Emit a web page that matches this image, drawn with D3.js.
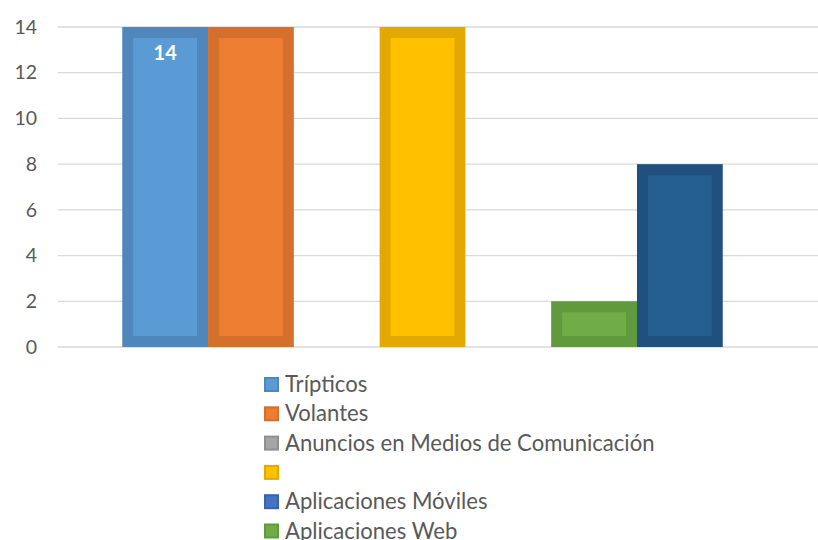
<!DOCTYPE html>
<html>
<head>
<meta charset="utf-8">
<script src="https://cdn.jsdelivr.net/npm/d3@7"></script>
<style>
    body { margin: 0; background: #fff; }
    svg { display: block; font-family: Lato, 'Noto Sans', sans-serif; }
</style>
</head>
<body>
<div id="chart"></div>
<script>
// data
const seriesNames = ['Trípticos', 'Volantes', 'Anuncios en Medios de Comunicación', '', 'Aplicaciones Móviles', 'Aplicaciones Web', ''];
const seriesValues = [14, 14, 0, 14, 0, 2, 8];
const seriesLabels = ['14', null, null, null, null, null, null]; // only the first bar has a label
const yTicks = [0, 2, 4, 6, 8, 10, 12, 14];

// colours: main fill + darker rim
const fills = ['#5b9bd5', '#ed7d31', '#a5a5a5', '#ffc000', '#4472c4', '#70ad47', '#255e91'];
const rims  = ['#4f87bd', '#d4702c', '#8f8f8f', '#e2aa00', '#3a63ad', '#609a3e', '#1f507e'];

const width = 818, height = 540;
const margin = [27, 193, 58, 31]; // top, bottom, left, right
const inset = 11;

const svg = d3.select('#chart')
    .append('svg')
    .attr('width', width)
    .attr('height', height);

const series = seriesNames.map((name, i) => ({ i, name, value: seriesValues[i], label: seriesLabels[i] }));

// scales
const x0 = d3.scaleBand([''], [margin[2], 787]).paddingInner(0).paddingOuter(0.107);
const x1 = d3.scaleBand(series.map(d => d.i), [0, x0.bandwidth()]).padding(0);
const y = d3.scaleLinear([0, 14], [height - margin[1], margin[0]]);

// gridlines
svg.append('g')
    .selectAll('line')
    .data(yTicks)
    .join('line')
    .attr('x1', margin[2])
    .attr('x2', width)
    .attr('y1', d => y(d))
    .attr('y2', d => y(d))
    .attr('stroke', '#d9d9d9')
    .attr('stroke-width', 1.3);

// y axis labels
const axisY = svg.append('g')
    .attr('transform', `translate(${margin[2]}, 0)`)
    .call(d3.axisLeft(y).tickValues(yTicks).tickSize(0).tickPadding(21));
axisY.select('.domain').remove();
axisY.selectAll('text')
    .style('font-family', 'Lato, sans-serif')
    .style('font-size', '19.5px')
    .attr('fill', '#595959');

// bars
const bars = svg.append('g')
    .attr('transform', `translate(${x0('')}, 0)`)
    .selectAll('g.bar')
    .data(series.filter(d => d.value > 0))
    .join('g')
    .classed('bar', true);

bars.append('rect')
    .attr('x', d => x1(d.i))
    .attr('y', d => y(d.value))
    .attr('width', x1.bandwidth())
    .attr('height', d => y(0) - y(d.value))
    .attr('fill', d => rims[d.i]);

bars.append('rect')
    .attr('x', d => x1(d.i) + inset)
    .attr('y', d => y(d.value) + inset)
    .attr('width', x1.bandwidth() - 2 * inset)
    .attr('height', d => Math.max(0, y(0) - y(d.value) - 2 * inset))
    .attr('fill', d => fills[d.i]);

// data labels
bars.filter(d => d.label)
    .append('text')
    .attr('x', d => x1(d.i) + x1.bandwidth() / 2)
    .attr('y', d => y(d.value))
    .attr('dy', 33)
    .attr('text-anchor', 'middle')
    .attr('fill', '#fff')
    .style('font-weight', 'bold')
    .style('font-size', '20px')
    .text(d => d.label);

// legend
const legend = svg.append('g')
    .attr('transform', 'translate(264, 377)')
    .selectAll('g')
    .data(series)
    .join('g')
    .attr('transform', (d, i) => `translate(0, ${i * 29.3})`);

legend.append('rect')
    .attr('x', 1).attr('y', 1)
    .attr('width', 13).attr('height', 13)
    .attr('fill', d => fills[d.i])
    .attr('stroke', d => rims[d.i])
    .attr('stroke-width', 2);

legend.append('text')
    .attr('x', 21)
    .attr('y', 15)
    .attr('fill', '#595959')
    .style('font-size', '22.1px')
    .text(d => d.name);
</script>
</body>
</html>
